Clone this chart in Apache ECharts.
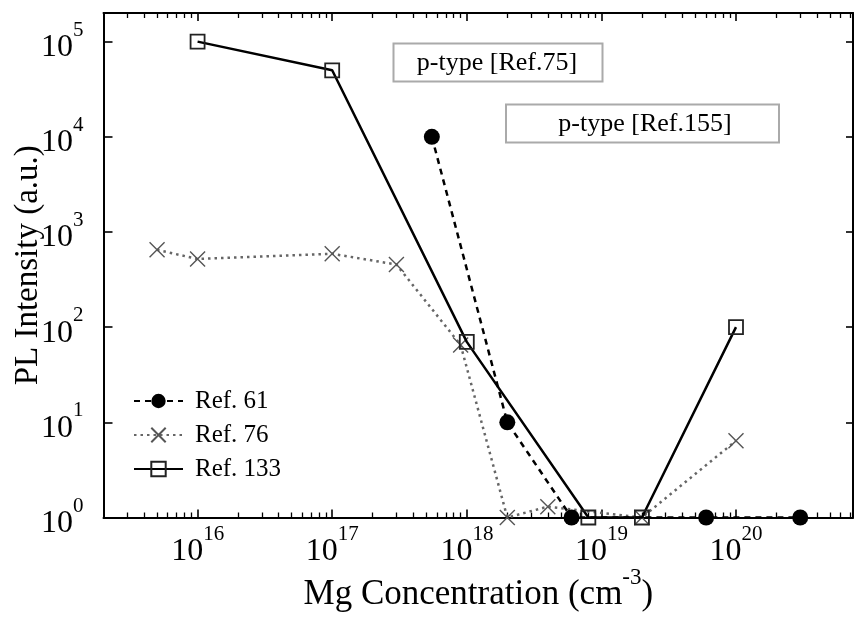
<!DOCTYPE html>
<html>
<head>
<meta charset="utf-8">
<script src="https://cdn.jsdelivr.net/npm/echarts@6/dist/echarts.min.js"></script>
<style>
  html, body { margin: 0; padding: 0; background: #fff; }
  #chart { width: 857px; height: 623px; }
</style>
</head>
<body>
<div id="chart"></div>
<script>
// Mg concentration (cm^-3) and PL intensity (a.u.) per reference
const ref61X = [5.5e17, 2e18, 6e18, 6e19, 3e20];
const ref61Y = [1e4, 10, 1, 1, 1];

const ref76X = [5e15, 1e16, 1e17, 3e17, 9e17, 2e18, 4e18, 2e19, 1e20];
const ref76Y = [650, 520, 590, 455, 65, 1, 1.3, 1, 6.4];

const ref133X = [1e16, 1e17, 1e18, 8e18, 2e19, 1e20];
const ref133Y = [1e5, 5e4, 70, 1, 1, 100];

const seriesNames = ['Ref. 61', 'Ref. 76', 'Ref. 133'];

// Tick positions
const xMajorTicks = [1e16, 1e17, 1e18, 1e19, 1e20];
const yMajorTicks = [1, 10, 100, 1e3, 1e4, 1e5];
const xMinorMantissas = [2, 3, 4, 5, 6, 7, 8, 9];
const xMinorDecades = [1e15, 1e16, 1e17, 1e18, 1e19, 1e20];

const annotations = ['p-type [Ref.75]', 'p-type [Ref.155]'];

const X_MIN = 2e15, X_MAX = 7.4e20, Y_MIN = 1, Y_MAX = 2e5;
const FONT = '"Liberation Serif", "Times New Roman", serif';

const xMinorTicks = [];
xMinorDecades.forEach(d => xMinorMantissas.forEach(m => {
  const v = m * d;
  if (v > X_MIN && v < X_MAX) xMinorTicks.push(v);
}));

const zip = (xs, ys) => xs.map((x, i) => [x, ys[i]]);

// "10" with a raised exponent; p is a tiny spacer that sets the line box height
function powLabel(v) {
  const e = Math.round(Math.log10(v));
  return '{p| }{b|10}{s|' + e + '}';
}
function powRich(raise) {
  return {
    p: { fontFamily: FONT, fontSize: 1, lineHeight: 44, verticalAlign: 'top' },
    b: { fontFamily: FONT, fontSize: 32, lineHeight: 32, color: '#000', verticalAlign: 'bottom' },
    s: { fontFamily: FONT, fontSize: 21, lineHeight: 2 * (28 - raise), color: '#000', verticalAlign: 'top' }
  };
}

const gridRect = { left: 103.5, top: 13, right: 4, bottom: 105.5, containLabel: false, outerBoundsMode: 'none' };
const axisLine = { show: true, lineStyle: { color: '#000', width: 2 } };

const chart = echarts.init(document.getElementById('chart'), null, { renderer: 'canvas' });

chart.setOption({
  animation: false,
  backgroundColor: '#fff',
  grid: [Object.assign({}, gridRect), Object.assign({}, gridRect)],
  xAxis: [
    {
      type: 'log', logBase: 10, gridIndex: 0, position: 'bottom',
      min: X_MIN, max: X_MAX,
      axisLine: axisLine,
      axisTick: { show: true, inside: true, length: 8, customValues: xMajorTicks, lineStyle: { color: '#000', width: 1.6 } },
      axisLabel: { show: true, customValues: xMajorTicks, margin: 6, formatter: powLabel, rich: powRich(14.5) },
      splitLine: { show: false },
      name: '{p| }{t|Mg Concentration (cm}{u|-3}{t|)}',
      nameLocation: 'middle',
      nameGap: 49,
      nameMoveOverlap: false,
      nameTextStyle: {
        rich: {
          p: { fontFamily: FONT, fontSize: 1, lineHeight: 46, verticalAlign: 'top' },
          t: { fontFamily: FONT, fontSize: 35, lineHeight: 36, color: '#000', verticalAlign: 'bottom' },
          u: { fontFamily: FONT, fontSize: 23, lineHeight: 24, color: '#000', verticalAlign: 'top' }
        }
      }
    },
    {
      type: 'log', logBase: 10, gridIndex: 0, position: 'top',
      min: X_MIN, max: X_MAX,
      axisLine: axisLine,
      axisTick: { show: true, inside: true, length: 8, customValues: xMajorTicks, lineStyle: { color: '#000', width: 1.6 } },
      axisLabel: { show: false },
      splitLine: { show: false }
    },
    {
      type: 'log', logBase: 10, gridIndex: 1, position: 'bottom',
      min: X_MIN, max: X_MAX,
      axisLine: { show: false },
      axisTick: { show: true, inside: true, length: 5, customValues: xMinorTicks, lineStyle: { color: '#000', width: 1.3 } },
      axisLabel: { show: false },
      splitLine: { show: false }
    },
    {
      type: 'log', logBase: 10, gridIndex: 1, position: 'top',
      min: X_MIN, max: X_MAX,
      axisLine: { show: false },
      axisTick: { show: true, inside: true, length: 5, customValues: xMinorTicks, lineStyle: { color: '#000', width: 1.3 } },
      axisLabel: { show: false },
      splitLine: { show: false }
    }
  ],
  yAxis: [
    {
      type: 'log', logBase: 10, gridIndex: 0, position: 'left',
      min: Y_MIN, max: Y_MAX,
      axisLine: axisLine,
      axisTick: { show: true, inside: true, length: 9, customValues: yMajorTicks, lineStyle: { color: '#000', width: 1.6 } },
      axisLabel: { show: true, customValues: yMajorTicks, margin: 20, formatter: powLabel, rich: powRich(15) },
      splitLine: { show: false },
      name: 'PL Intensity (a.u.)',
      nameLocation: 'middle',
      nameRotate: 90,
      nameGap: 59,
      nameMoveOverlap: false,
      nameTextStyle: { fontFamily: FONT, fontSize: 33, lineHeight: 32, color: '#000' }
    },
    {
      type: 'log', logBase: 10, gridIndex: 0, position: 'right',
      min: Y_MIN, max: Y_MAX,
      axisLine: axisLine,
      axisTick: { show: true, inside: true, length: 7, customValues: yMajorTicks, lineStyle: { color: '#000', width: 1.6 } },
      axisLabel: { show: false },
      splitLine: { show: false }
    },
    {
      type: 'value', gridIndex: 1, show: false, min: 0, max: 1
    }
  ],
  legend: {
    orient: 'vertical',
    left: 128,
    top: 383,
    itemWidth: 49,
    itemHeight: 18,
    itemGap: 8,
    data: seriesNames,
    textStyle: { fontFamily: FONT, fontSize: 25, lineHeight: 26, color: '#000', padding: [0, 0, 0, 7] }
  },
  graphic: [
    {
      type: 'rect', silent: true,
      shape: { x: 393.5, y: 43.5, width: 209, height: 38 },
      style: { fill: '#fff', stroke: '#aaa', lineWidth: 2 }, z: 10
    },
    {
      type: 'text', silent: true, x: 497, y: 63,
      style: { text: annotations[0], font: '26px ' + FONT, fill: '#000', align: 'center', verticalAlign: 'middle' }, z: 11
    },
    {
      type: 'rect', silent: true,
      shape: { x: 506, y: 104.5, width: 273, height: 38 },
      style: { fill: '#fff', stroke: '#aaa', lineWidth: 2 }, z: 10
    },
    {
      type: 'text', silent: true, x: 645, y: 124,
      style: { text: annotations[1], font: '26px ' + FONT, fill: '#000', align: 'center', verticalAlign: 'middle' }, z: 11
    }
  ],
  series: [
    {
      name: seriesNames[1],
      type: 'line',
      xAxisIndex: 0, yAxisIndex: 0,
      data: zip(ref76X, ref76Y),
      symbol: 'path://M0,0L10,10M10,0L0,10',
      symbolSize: 15,
      itemStyle: { color: 'rgba(0,0,0,0)', borderColor: '#555', borderWidth: 1.4 },
      lineStyle: { color: '#666', width: 2.5, type: [2.5, 4] },
      z: 2
    },
    {
      name: seriesNames[2],
      type: 'line',
      xAxisIndex: 0, yAxisIndex: 0,
      data: zip(ref133X, ref133Y),
      symbol: 'rect',
      symbolSize: 14,
      itemStyle: { color: 'rgba(0,0,0,0)', borderColor: '#222', borderWidth: 1.8 },
      lineStyle: { color: '#000', width: 2.5, type: 'solid' },
      z: 3
    },
    {
      name: seriesNames[0],
      type: 'line',
      xAxisIndex: 0, yAxisIndex: 0,
      data: zip(ref61X, ref61Y),
      symbol: 'circle',
      symbolSize: 16,
      itemStyle: { color: '#000' },
      lineStyle: { color: '#000', width: 2.5, type: [6, 5] },
      z: 4
    }
  ]
});
</script>
</body>
</html>
